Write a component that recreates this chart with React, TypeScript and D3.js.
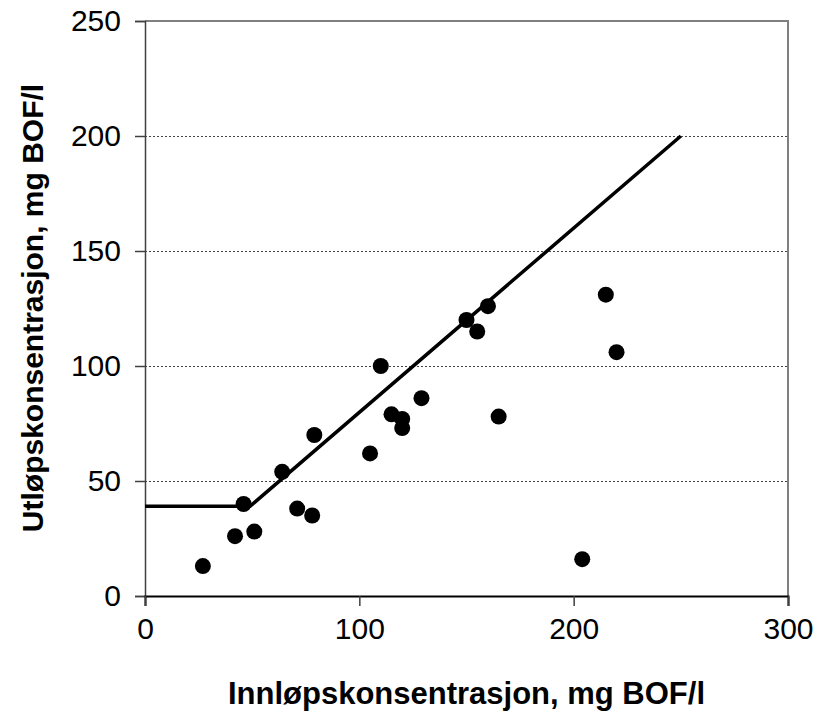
import { useEffect, useRef } from "react";
import * as d3 from "d3";

// innløp (x) og utløp (y), mg BOF/l
const inflow = [27, 42, 46, 51, 64, 71, 78, 79, 105, 110, 115, 120, 120, 129, 150, 155, 160, 165, 204, 215, 220];
const outflow = [13, 26, 40, 28, 54, 38, 35, 70, 62, 100, 79, 77, 73, 86, 120, 115, 126, 78, 16, 131, 106];

// krav-linje
const limitX = [0, 49, 250];
const limitY = [39, 39, 200];

const xTicks = [0, 100, 200, 300];
const yTicks = [0, 50, 100, 150, 200, 250];

const xTitle = "Innløpskonsentrasjon, mg BOF/l";
const yTitle = "Utløpskonsentrasjon, mg BOF/l";

export default function App() {
  const svgRef = useRef<SVGSVGElement>(null);

  useEffect(() => {
    document.body.style.margin = "0";

    const width = 825;
    const height = 713;
    const margin = { top: 21, right: 37, bottom: 117, left: 145 };
    const innerW = width - margin.left - margin.right;
    const innerH = height - margin.top - margin.bottom;

    const root = d3.select(svgRef.current);
    root.selectAll("*").remove();
    root.attr("width", width).attr("height", height);

    const svg = root.append("g").attr("transform", `translate(${margin.left},${margin.top})`);

    const x = d3.scaleLinear().domain([0, 300]).range([0, innerW]);
    const y = d3.scaleLinear().domain([0, 250]).range([innerH, 0]);

    const font = "Liberation Sans, Arial, sans-serif";

    // gridlines
    svg.append("g")
      .selectAll("line")
      .data(yTicks.filter(t => t > 0 && t < 250))
      .join("line")
      .attr("x1", 0)
      .attr("x2", innerW)
      .attr("y1", d => y(d))
      .attr("y2", d => y(d))
      .attr("stroke", "#444")
      .attr("stroke-width", 1)
      .attr("stroke-dasharray", "2,2")
      .attr("shape-rendering", "crispEdges");

    // frame top + right
    svg.append("path")
      .attr("d", `M0,0H${innerW}V${innerH}`)
      .attr("fill", "none")
      .attr("stroke", "#808080")
      .attr("stroke-width", 1.5)
      .attr("shape-rendering", "crispEdges");

    const yAxis = svg.append("g")
      .call(d3.axisLeft(y).tickValues(yTicks).tickSize(10).tickPadding(14));
    yAxis.select(".domain").attr("stroke", "#404040").attr("stroke-width", 1.5);
    yAxis.selectAll(".tick line").attr("stroke", "#404040").attr("stroke-width", 1.5);
    yAxis.selectAll("text")
      .attr("font-family", font)
      .attr("font-size", 30)
      .attr("fill", "#000");

    const xAxis = svg.append("g")
      .attr("transform", `translate(0,${innerH})`)
      .call(d3.axisBottom(x).tickValues(xTicks).tickSize(10).tickPadding(12));
    xAxis.select(".domain").attr("stroke", "#000").attr("stroke-width", 2);
    xAxis.selectAll(".tick line").attr("stroke", "#404040").attr("stroke-width", 1.5);
    xAxis.selectAll("text")
      .attr("font-family", font)
      .attr("font-size", 30)
      .attr("fill", "#000");

    // linje
    const pts = limitX.map((v, i) => [v, limitY[i]] as [number, number]);
    svg.append("path")
      .datum(pts)
      .attr("fill", "none")
      .attr("stroke", "#000")
      .attr("stroke-width", 3.5)
      .attr("d", d3.line<[number, number]>().x(d => x(d[0])).y(d => y(d[1])));

    // punkter
    svg.append("g")
      .selectAll("circle")
      .data(inflow.map((v, i) => [v, outflow[i]]))
      .join("circle")
      .attr("cx", d => x(d[0]))
      .attr("cy", d => y(d[1]))
      .attr("r", 8)
      .attr("fill", "#000");

    // titler
    root.append("text")
      .attr("x", margin.left + x(150))
      .attr("y", 704)
      .attr("text-anchor", "middle")
      .attr("font-family", font)
      .attr("font-weight", "bold")
      .attr("font-size", 31)
      .text(xTitle);

    root.append("text")
      .attr("transform", `translate(43,308) rotate(-90)`)
      .attr("text-anchor", "middle")
      .attr("font-family", font)
      .attr("font-weight", "bold")
      .attr("font-size", 30)
      .text(yTitle);
  }, []);

  return <svg ref={svgRef}></svg>;
}
